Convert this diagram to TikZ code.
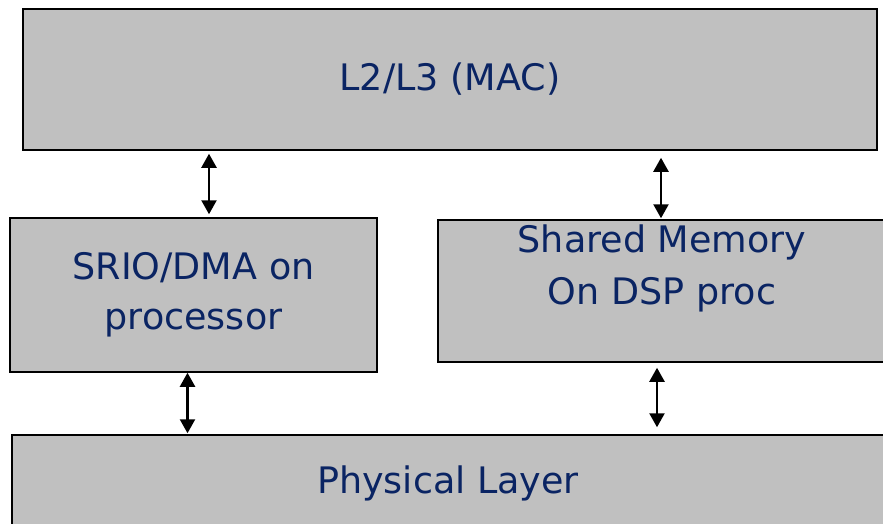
\documentclass[tikz,border=0pt]{standalone}
\usepackage{fontspec}
\setmainfont{DejaVu Sans}
\usepackage{tikz}
\usetikzlibrary{arrows.meta,positioning}
\definecolor{boxgray}{RGB}{192,192,192}
\definecolor{navytext}{RGB}{10,36,99}
\tikzset{
  basebox/.style={rectangle,draw=black,line width=1.5pt,fill=boxgray,align=center,text=navytext,font=\fontsize{36.5}{50}\selectfont,inner sep=0pt},
  plaintext/.style={align=center,text=navytext,font=\fontsize{36.5}{52}\selectfont,inner sep=0pt},
  biarr/.style={<->,>={Triangle[length=14pt,width=15pt]},line width=2.3pt,color=black}
}
\begin{document}
\begin{tikzpicture}[x=1pt,y=-1pt]
  \clip (0,0) rectangle (883,523);
  \useasboundingbox (0,0) rectangle (883,523);
  %% layers
  \node[basebox,minimum width=854pt,minimum height=141pt] (mac) at (450,79.5) {L2/L3 (MAC)};
  \node[basebox,minimum width=367pt,minimum height=154pt] (srio) at (193.5,295) {SRIO/DMA on\\processor};
  \node[basebox,minimum width=448pt,minimum height=142pt] (shm) at (662,291) {};
  \node[plaintext,below=5pt of shm.north] (shmtext) {Shared Memory\\On DSP proc};
  \node[basebox,minimum width=872pt,minimum height=96pt] (phy) at (448,483) {Physical Layer};

  %% links
  \draw[biarr,shorten <=3pt,shorten >=3pt] ([xshift=15.5pt]srio.north |- mac.south) -- ([xshift=15.5pt]srio.north);
  \draw[biarr,shorten <=7pt,shorten >=1pt] ([xshift=-1pt]shm.north |- mac.south) -- ([xshift=-1pt]shm.north);
  \draw[biarr,shorten >=1pt] ([xshift=-6pt]srio.south) -- ([xshift=-6pt]srio.south |- phy.north);
  \draw[biarr,shorten <=5pt,shorten >=7pt] ([xshift=-5pt]shm.south) -- ([xshift=-5pt]shm.south |- phy.north);
\end{tikzpicture}
\end{document}
